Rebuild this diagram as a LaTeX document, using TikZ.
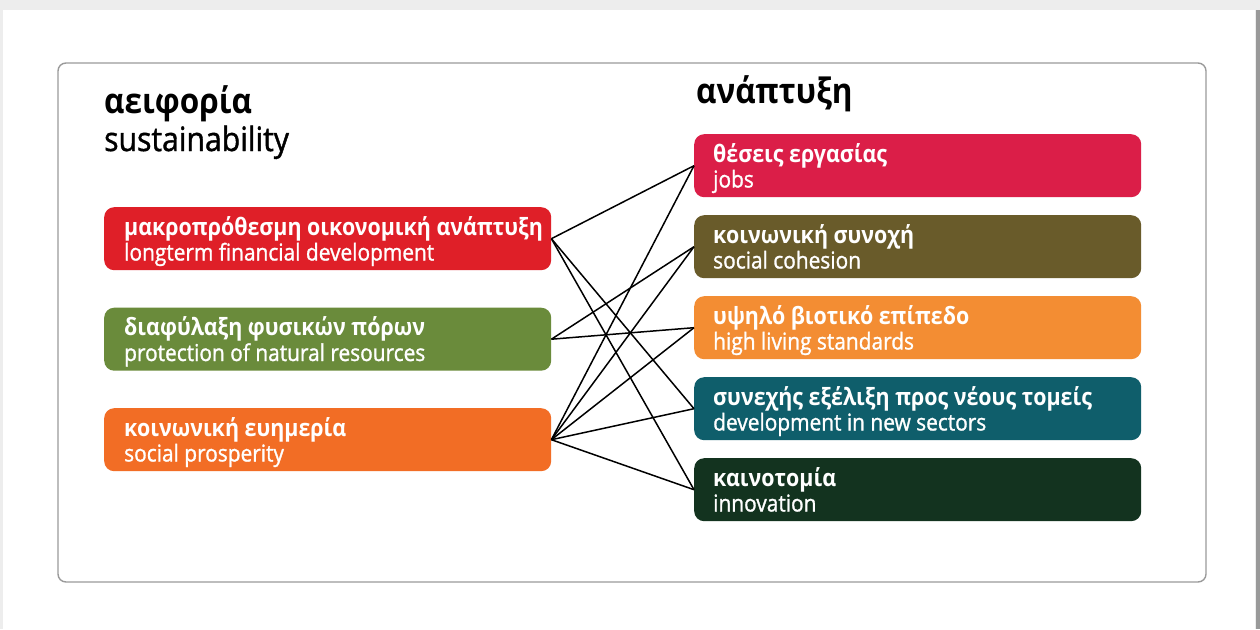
\documentclass[tikz,border=0pt]{standalone}
\usepackage{fontspec}
\setmainfont[FakeStretch=0.9]{Open Sans}
\newfontfamily\engfont[FakeStretch=0.9,FakeBold=1.2]{Open Sans}
\usetikzlibrary{calc}
\definecolor{cL1}{HTML}{DF1F28}
\definecolor{cL2}{HTML}{6A8B3B}
\definecolor{cL3}{HTML}{F26D25}
\definecolor{cR1}{HTML}{DB1E48}
\definecolor{cR2}{HTML}{695B2A}
\definecolor{cR3}{HTML}{F38D33}
\definecolor{cR4}{HTML}{0F5E6B}
\definecolor{cR5}{HTML}{13331F}
\definecolor{frame}{HTML}{9A9A9A}
\tikzset{
  box/.style={draw=none, rounded corners=10pt, minimum width=447pt, minimum height=63pt, inner sep=0pt, anchor=north west},
  gtxt/.style={anchor=base west, inner sep=0pt, text=white, font=\fontsize{23.8}{26}\selectfont\bfseries},
  etxt/.style={anchor=base west, inner sep=0pt, text=white, font=\engfont\fontsize{23.2}{26}\selectfont},
  title/.style={anchor=base west, inner sep=0pt, font=\fontsize{35}{40}\selectfont\bfseries},
  subtitle/.style={anchor=base west, inner sep=0pt, font=\engfont\fontsize{33.5}{38}\selectfont},
  link/.style={draw=black, line width=1.5pt},
}
\begin{document}
\begin{tikzpicture}[x=1pt,y=-1pt]
\useasboundingbox (0,0) rectangle (1260,629);
% page background
\fill[black!7] (0,0) rectangle (1260,629);
\fill[white] (3,10) rectangle (1255,629);
\fill[black!40] (1256,10) rectangle (1260,629);
% outer frame
\draw[frame, line width=1.4pt, rounded corners=8pt] (58,63) rectangle (1206,582);
% titles
\node[title] (tL) at (104,113) {αειφορία};
\node[subtitle] (tLs) at (104,151) {sustainability};
\node[title] (tR) at (696,103) {ανάπτυξη};
% left boxes
\node[box, fill=cL1] (L1) at (104,207) {};
\node[box, fill=cL2] (L2) at (104,307.5) {};
\node[box, fill=cL3] (L3) at (104,408) {};
% right boxes
\node[box, fill=cR1] (R1) at (694,134) {};
\node[box, fill=cR2] (R2) at (694,215) {};
\node[box, fill=cR3] (R3) at (694,296) {};
\node[box, fill=cR4] (R4) at (694,377) {};
\node[box, fill=cR5] (R5) at (694,458) {};
% texts
\node[gtxt] (L1g) at ($(L1.north west)+(20,28)$) {μακροπρόθεσμη οικονομική ανάπτυξη};
\node[etxt] (L1e) at ($(L1.north west)+(20,53.5)$) {longterm financial development};
\node[gtxt] (L2g) at ($(L2.north west)+(20,28)$) {διαφύλαξη φυσικών πόρων};
\node[etxt] (L2e) at ($(L2.north west)+(20,53.5)$) {protection of natural resources};
\node[gtxt] (L3g) at ($(L3.north west)+(20,28)$) {κοινωνική ευημερία};
\node[etxt] (L3e) at ($(L3.north west)+(20,53.5)$) {social prosperity};
\node[gtxt] (R1g) at ($(R1.north west)+(19,28)$) {θέσεις εργασίας};
\node[etxt] (R1e) at ($(R1.north west)+(19,53.5)$) {jobs};
\node[gtxt] (R2g) at ($(R2.north west)+(19,28)$) {κοινωνική συνοχή};
\node[etxt] (R2e) at ($(R2.north west)+(19,53.5)$) {social cohesion};
\node[gtxt] (R3g) at ($(R3.north west)+(19,28)$) {υψηλό βιοτικό επίπεδο};
\node[etxt] (R3e) at ($(R3.north west)+(19,53.5)$) {high living standards};
\node[gtxt] (R4g) at ($(R4.north west)+(19,28)$) {συνεχής εξέλιξη προς νέους τομείς};
\node[etxt] (R4e) at ($(R4.north west)+(19,53.5)$) {development in new sectors};
\node[gtxt] (R5g) at ($(R5.north west)+(19,28)$) {καινοτομία};
\node[etxt] (R5e) at ($(R5.north west)+(19,53.5)$) {innovation};
% connectors
\draw[link] (L1.east) -- (R1.west);
\draw[link] (L1.east) -- (R4.west);
\draw[link] (L1.east) -- (R5.west);
\draw[link] (L2.east) -- (R2.west);
\draw[link] (L2.east) -- (R3.west);
\draw[link] (L3.east) -- (R1.west);
\draw[link] (L3.east) -- (R2.west);
\draw[link] (L3.east) -- (R3.west);
\draw[link] (L3.east) -- (R4.west);
\draw[link] (L3.east) -- (R5.west);
\end{tikzpicture}
\end{document}
